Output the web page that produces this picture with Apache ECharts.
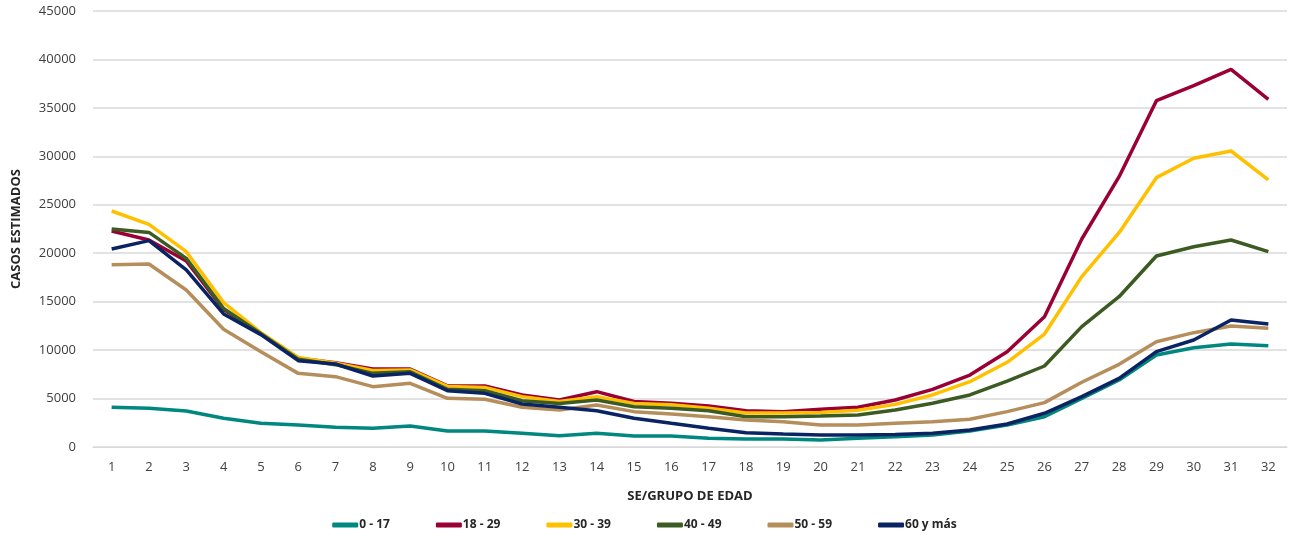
<!DOCTYPE html>
<html><head><meta charset="utf-8">
<script src="https://cdn.jsdelivr.net/npm/echarts@6/dist/echarts.min.js"></script>
<style>html,body{margin:0;padding:0;background:#fff}#c{width:1289px;height:538px}</style>
</head><body><div id="c"></div>
<script>
const weeks = ['1','2','3','4','5','6','7','8','9','10','11','12','13','14','15','16','17','18','19','20','21','22','23','24','25','26','27','28','29','30','31','32'];
const g0_17 = [4100,3990,3720,2960,2440,2270,2030,1930,2170,1650,1650,1410,1170,1410,1140,1140,900,830,830,720,900,1060,1240,1650,2270,3130,5020,6910,9500,10250,10630,10460];
const g18_29 = [22300,21360,19200,14200,11700,9150,8700,8050,8050,6300,6300,5370,4850,5710,4700,4510,4230,3750,3650,3890,4100,4850,5950,7430,9840,13450,21470,27900,35740,37300,38980,35880];
const g30_39 = [24360,22980,20160,14900,11800,9250,8640,7900,7950,6250,6150,5200,4700,5200,4500,4350,4000,3500,3500,3550,3800,4400,5370,6740,8740,11660,17580,22120,27800,29800,30550,27560];
const g40_49 = [22500,22150,19470,14300,11700,9050,8500,7600,7770,5950,5800,4780,4500,4850,4160,3990,3750,3130,3130,3200,3300,3820,4510,5370,6810,8360,12420,15510,19710,20670,21360,20160];
const g50_59 = [18820,18890,16200,12150,9840,7600,7260,6230,6570,5020,4920,4100,3820,4330,3650,3400,3130,2790,2610,2270,2270,2440,2610,2860,3650,4580,6680,8530,10870,11800,12490,12250];
const g60 = [20440,21300,18270,13730,11600,8910,8570,7330,7600,5810,5540,4440,4100,3750,2960,2440,1930,1480,1340,1240,1240,1300,1410,1750,2370,3480,5200,7090,9840,11040,13110,12700];
const seriesNames = ['0 - 17','18 - 29','30 - 39','40 - 49','50 - 59','60 y más'];
const seriesData = [g0_17,g18_29,g30_39,g40_49,g50_59,g60];
const colors = ['#00877F','#9B0034','#FFC000','#3B5B23','#B58E5C','#0A2463'];
const font = 'Open Sans';
const chart = echarts.init(document.getElementById('c'), null, {renderer:'canvas'});
chart.setOption({
  animation:false,
  color: colors,
  grid:{left:93,right:2,top:11,bottom:91},
  legend:{
    bottom:2, left:'center', itemWidth:26, itemHeight:5, itemGap:46,
    icon:'roundRect',
    textStyle:{fontFamily:font,fontSize:12,fontWeight:'bold',color:'#262626',padding:[0,0,0,-4]},
    data: seriesNames
  },
  xAxis:{
    type:'category', data:weeks, boundaryGap:true,
    name:'SE/GRUPO DE EDAD', nameLocation:'middle', nameGap:43,
    nameTextStyle:{fontFamily:font,fontSize:13,fontWeight:'bold',color:'#262626'},
    axisLine:{show:true,lineStyle:{color:'#d9d9d9',width:1}},
    axisTick:{show:false},
    axisLabel:{fontFamily:font,fontSize:13,color:'#404040',margin:14}
  },
  yAxis:{
    type:'value', min:0, max:45000, interval:5000,
    name:'CASOS ESTIMADOS', nameLocation:'middle', nameGap:70, nameRotate:90,
    nameTextStyle:{fontFamily:font,fontSize:13,fontWeight:'bold',color:'#262626'},
    axisLine:{show:false}, axisTick:{show:false},
    splitLine:{lineStyle:{color:'#d9d9d9',width:1.5}},
    axisLabel:{fontFamily:font,fontSize:13,color:'#404040',margin:17,formatter:v=>String(v)}
  },
  series: seriesNames.map((n,i)=>({
    name:n, type:'line', data:seriesData[i], showSymbol:false, symbol:'none',
    lineStyle:{width:3.5,color:colors[i]}, itemStyle:{color:colors[i]}
  }))
});
</script></body></html>
